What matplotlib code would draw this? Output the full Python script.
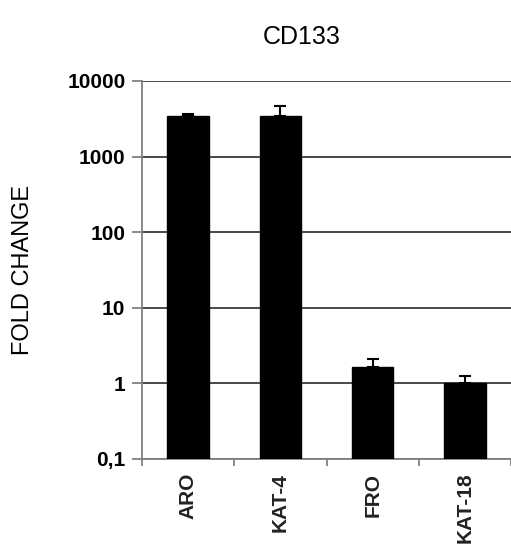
import numpy as np
import matplotlib.pyplot as plt

plt.rcParams['font.family'] = ['Liberation Sans', 'DejaVu Sans']

# data
lines = ['ARO', 'KAT-4', 'FRO', 'KAT-18']
fold = [3400, 3400, 1.63, 1.0]
err_up = [300, 1200, 0.5, 0.24]
yticks = [0.1, 1, 10, 100, 1000, 10000]
ylabels = ['0,1', '1', '10', '100', '1000', '10000']

fig = plt.figure(figsize=(5.11, 5.47), dpi=100)
ax = fig.add_axes([0.278, 0.161, 0.722, 0.691])

x = np.arange(len(lines))
ax.set_yscale('log')
ax.set_ylim(0.1, 10000)
ax.set_xlim(-0.5, len(lines) - 0.5)

ax.yaxis.grid(True, color='#3a3a3a', linewidth=1.3)
ax.set_axisbelow(True)

ax.bar(x, fold, width=0.45, color='black', edgecolor='black', zorder=3)
ax.errorbar(x, fold, yerr=[np.zeros(len(fold)), err_up], fmt='none',
            ecolor='black', elinewidth=1.5, capsize=4, capthick=1.5, zorder=4)

ax.set_yticks(yticks)
ax.set_yticklabels(ylabels, fontsize=15, fontweight='bold')
ax.yaxis.set_minor_locator(plt.NullLocator())
ax.set_xticks(x)
ax.set_xticklabels(lines, rotation=90, fontsize=15, fontweight='bold', color='#222222')
ax.set_xticks(np.arange(len(lines) + 1) - 0.5, minor=True)
ax.tick_params(axis='x', which='major', length=0, pad=10)
ax.tick_params(axis='x', which='minor', length=5, color='#808080', width=1.3)
ax.tick_params(axis='y', length=7, color='#808080', width=1.3, pad=5)

for s in ['top', 'right']:
    ax.spines[s].set_visible(False)
ax.spines['left'].set_color('#808080')
ax.spines['bottom'].set_color('#808080')
ax.spines['left'].set_linewidth(1.3)
ax.spines['bottom'].set_linewidth(1.3)

ax.set_ylabel('FOLD CHANGE', fontsize=17, labelpad=24)
fig.text(302 / 511, 1 - 37 / 547, 'CD133', fontsize=18, ha='center', va='center')

plt.savefig('out.png', dpi=100)
